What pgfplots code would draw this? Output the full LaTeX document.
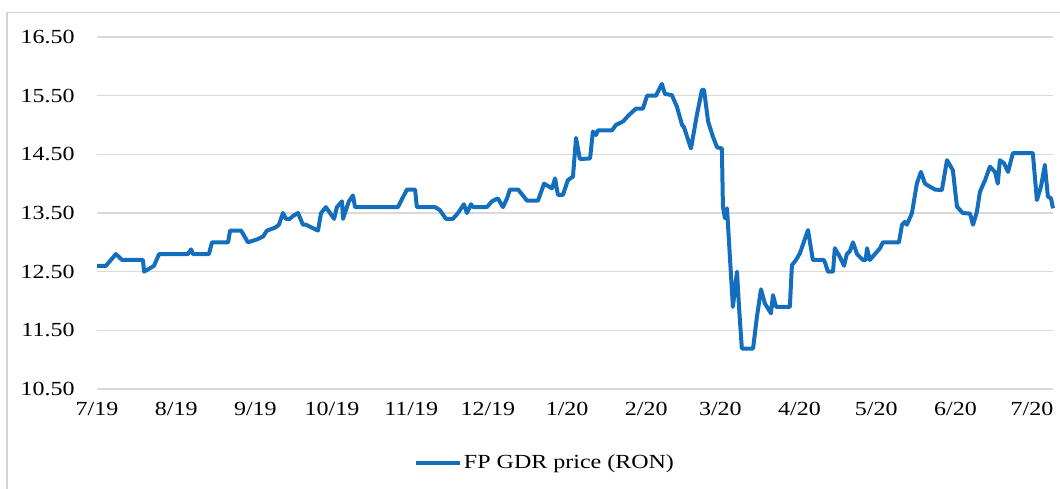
\documentclass[border=0pt]{standalone}
\usepackage{fontspec}
\setmainfont{Liberation Serif}[FakeStretch=1.2]
\usepackage{pgfplots}
\pgfplotsset{compat=1.18}
\definecolor{fpblue}{RGB}{20,110,190}
\definecolor{gridgray}{RGB}{217,217,217}
\definecolor{framegray}{RGB}{210,210,210}
\begin{document}
\begin{tikzpicture}
\path[use as bounding box] (0,0) rectangle (530pt,244pt);
\draw[framegray, line width=0.7pt] (3.5pt,-5pt) -- (3.5pt,237.6pt) -- (535pt,237.6pt);
\begin{axis}[
  at={(48.5pt,49.5pt)}, anchor=south west,
  scale only axis, width=478pt, height=176pt,
  xmin=0, xmax=374.2, ymin=10.5, ymax=16.5,
  axis line style={draw=none},
  major tick length=0pt,
  ytick={10.5,11.5,12.5,13.5,14.5,15.5,16.5},
  yticklabels={10.50,11.50,12.50,13.50,14.50,15.50,16.50},
  xtick={0,31,62,92,123,153,184,215,244,275,305,336,366},
  xticklabels={7/19,8/19,9/19,10/19,11/19,12/19,1/20,2/20,3/20,4/20,5/20,6/20,7/20},
  ymajorgrids,
  grid style={gridgray, line width=0.75pt},
  yticklabel style={anchor=east, inner sep=0pt, xshift=-11pt, font=\fontsize{10}{12}\selectfont},
  xticklabel style={anchor=north, inner sep=0pt, yshift=-6.5pt, font=\fontsize{10}{12}\selectfont},
  legend style={at={(0.4686,-0.210)}, anchor=center, draw=none, fill=none,
    font=\fontsize{10}{12}\selectfont, inner sep=0pt, nodes={inner sep=1pt}},
  legend image code/.code={\draw[#1, line width=2pt] (0pt,0pt) -- (22pt,0pt);},
  clip=false,
]
\addplot[fpblue, line width=2pt, line join=round] coordinates {
(0,12.60) (3.5,12.60) (7.4,12.80) (9.8,12.70) (18.0,12.70) (18.4,12.50) (20.4,12.55) (22.3,12.60) (24.3,12.80)
(35.6,12.80) (36.8,12.88) (37.6,12.80) (43.8,12.80) (45.0,13.00) (51.3,13.00) (52.1,13.20) (56.4,13.20) (59.1,13.00)
(62.6,13.05) (65.0,13.10) (66.5,13.20) (69.7,13.25) (71.2,13.30) (72.8,13.50) (74.0,13.40) (75.5,13.40) (76.7,13.45)
(78.7,13.50) (80.6,13.30) (81.8,13.30) (84.1,13.25) (86.5,13.20) (87.7,13.50) (89.6,13.60) (91.2,13.50) (92.8,13.40)
(93.9,13.60) (95.9,13.70) (96.3,13.40) (97.8,13.60) (98.6,13.70) (100.2,13.80) (101.0,13.60)
(117.8,13.60) (121.3,13.90) (124.5,13.90) (125.2,13.60) (132.3,13.60) (134.2,13.55) (136.6,13.40) (139.3,13.40)
(141.3,13.50) (143.6,13.65) (144.8,13.50) (146.4,13.65) (147.2,13.60) (152.6,13.60) (154.6,13.70) (156.9,13.75)
(158.9,13.60) (160.5,13.75) (161.6,13.90) (164.8,13.90) (166.7,13.80) (168.3,13.71) (172.6,13.71) (175.0,14.00)
(178.1,13.92) (179.3,14.09) (180.4,13.81) (182.4,13.81) (184.3,14.06) (186.3,14.12) (187.5,14.78) (189.0,14.42)
(193.0,14.43) (194.1,14.89) (195.3,14.83) (196.1,14.91) (201.6,14.91) (203.1,15.00) (205.9,15.06) (208.2,15.17)
(211.0,15.28) (213.7,15.28) (215.3,15.50) (218.8,15.50) (221.1,15.70) (222.3,15.53) (225.0,15.51) (227.0,15.31)
(229.0,15.00) (229.7,14.97) (232.5,14.60) (234.8,15.17) (236.8,15.60) (237.6,15.60) (239.2,15.06) (241.1,14.80)
(242.7,14.62) (244.6,14.60) (245.0,13.61) (245.8,13.41) (246.6,13.58) (247.8,12.70) (248.9,11.90) (250.5,12.50)
(251.3,11.90) (252.4,11.19) (256.8,11.19) (258.3,11.73) (259.9,12.20) (261.4,11.96) (263.8,11.79) (264.6,12.10)
(265.8,11.90) (271.2,11.90) (272.0,12.61) (273.6,12.70) (275.1,12.81) (278.3,13.21) (280.2,12.70) (284.5,12.70)
(285.0,12.65) (286.1,12.50) (288.1,12.50) (288.8,12.90) (290.8,12.75) (292.4,12.60) (293.5,12.80) (294.7,12.85)
(295.9,13.00) (297.5,12.80) (298.6,12.75) (299.8,12.70) (300.9,12.70) (301.4,12.90) (302.5,12.70) (304.5,12.80)
(306.5,12.90) (307.6,13.00) (313.9,13.00) (315.1,13.30) (316.2,13.35) (317.0,13.30) (319.0,13.50) (320.9,14.00)
(322.5,14.20) (324.1,14.00) (326.0,13.95) (328.0,13.90) (330.7,13.89) (332.7,14.40) (335.0,14.23) (336.6,13.61)
(337.8,13.55) (338.9,13.50) (341.7,13.49) (342.9,13.30) (344.4,13.52) (345.6,13.86) (347.6,14.06) (349.5,14.29)
(351.5,14.20) (352.6,14.00) (353.4,14.40) (355.0,14.35) (356.6,14.20) (358.5,14.52) (366.3,14.52) (367.9,13.72)
(369.5,13.95) (371.0,14.32) (372.2,13.78) (373.4,13.75) (374.2,13.58)
};
\addlegendentry{FP GDR price (RON)}
\end{axis}
\end{tikzpicture}
\end{document}
